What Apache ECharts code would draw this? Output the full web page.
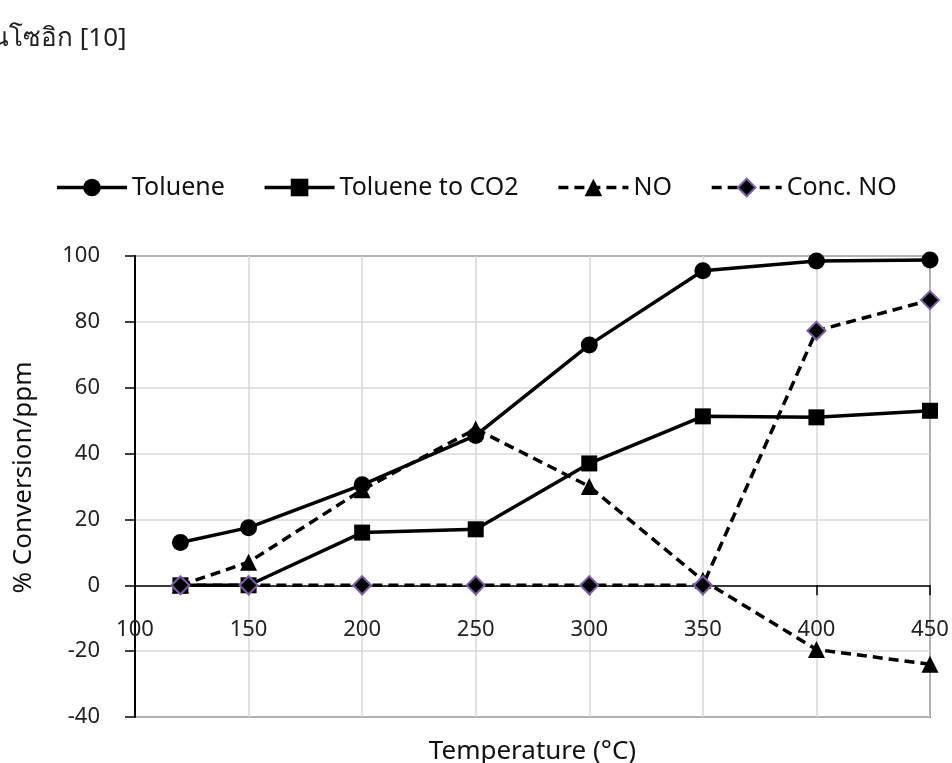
<!DOCTYPE html>
<html>
<head>
<meta charset="utf-8">
<script src="https://cdn.jsdelivr.net/npm/echarts@6/dist/echarts.min.js"></script>
<style>
html, body { margin: 0; padding: 0; background: #fff; }
#chart { width: 952px; height: 763px; }
</style>
</head>
<body>
<div id="chart"></div>
<script>
// temperature (°C)
var temps = [120, 150, 200, 250, 300, 350, 400, 450]
var toluene = [13, 17.5, 30.5, 45.5, 73, 95.5, 98.5, 98.8]
var tolueneCO2 = [0, 0, 16, 17, 37, 51.3, 51, 53]
var no = [0, 7, 29, 47.5, 30, 1.5, -19.5, -24]
var concNO = [0, 0, 0, 0, 0, 0, 77.3, 86.6]
var xTicks = [100, 150, 200, 250, 300, 350, 400, 450]
var yTicks = [-40, -20, 0, 20, 40, 60, 80, 100]

function pairs(vals) {
  return temps.map(function (t, i) { return [t, vals[i]] })
}

var font = "'Noto Sans', 'DejaVu Sans', sans-serif"
var myChart = echarts.init(document.getElementById("chart"))

myChart.setOption({
  animation: false,
  textStyle: { fontFamily: font },
  graphic: [
    {
      type: "text",
      left: -9,
      top: 26,
      style: { text: "นโซอิก [10]", fontSize: 26, fill: "#222", fontFamily: font }
    }
  ],
  legend: {
    top: 170,
    left: "center",
    itemWidth: 70,
    itemHeight: 22,
    itemGap: 38,
    lineStyle: { width: 3.5 },
    textStyle: { fontSize: 25, color: "#111", fontFamily: font },
    data: ["Toluene", "Toluene to CO2", "NO", "Conc. NO"]
  },
  grid: {
    left: 135,
    right: 22,
    top: 256,
    bottom: 46,
    containLabel: false,
    outerBoundsMode: "none",
    show: true,
    borderColor: "#000",
    borderWidth: 1.5
  },
  xAxis: {
    type: "value",
    min: xTicks[0],
    max: xTicks[xTicks.length - 1],
    interval: 50,
    name: "Temperature (°C)",
    nameLocation: "middle",
    nameGap: 22,
    nameTextStyle: { fontSize: 26, color: "#111" },
    axisLine: { onZero: true, lineStyle: { color: "#000", width: 1.5 } },
    axisTick: { show: true, inside: false, length: 10, lineStyle: { color: "#000", width: 1.5 } },
    // labels sit just under the zero line, as in the original
    axisLabel: { inside: true, fontSize: 22, color: "#222", margin: 76 },
    splitLine: { show: true, lineStyle: { color: "#d9d9d9", width: 1.5 } }
  },
  yAxis: {
    type: "value",
    min: yTicks[0],
    max: yTicks[yTicks.length - 1],
    interval: 20,
    name: "% Conversion/ppm",
    nameLocation: "middle",
    nameGap: 98,
    nameTextStyle: { fontSize: 26, color: "#111", padding: [0, 0, 0, 18] },
    axisLine: { show: true, lineStyle: { color: "#000", width: 2 } },
    axisTick: { show: true, length: 10, lineStyle: { color: "#000", width: 1.5 } },
    axisLabel: { fontSize: 22, color: "#222", margin: 35 },
    splitLine: { show: true, lineStyle: { color: "#d9d9d9", width: 1.5 } }
  },
  series: [
    {
      name: "Toluene",
      type: "line",
      data: pairs(toluene),
      symbol: "circle",
      symbolSize: 17,
      lineStyle: { color: "#000", width: 3.5 },
      itemStyle: { color: "#000" }
    },
    {
      name: "Toluene to CO2",
      type: "line",
      data: pairs(tolueneCO2),
      symbol: "rect",
      symbolSize: 16,
      lineStyle: { color: "#000", width: 3.5 },
      itemStyle: { color: "#000" }
    },
    {
      name: "NO",
      type: "line",
      data: pairs(no),
      symbol: "triangle",
      symbolSize: 17,
      lineStyle: { color: "#000", width: 3.5, type: [10, 6] },
      itemStyle: { color: "#000" }
    },
    {
      name: "Conc. NO",
      type: "line",
      data: pairs(concNO),
      symbol: "diamond",
      symbolSize: 18,
      lineStyle: { color: "#000", width: 3.5, type: [10, 6] },
      itemStyle: { color: "#000", borderColor: "#7a5ea8", borderWidth: 2 }
    }
  ]
})
</script>
</body>
</html>
